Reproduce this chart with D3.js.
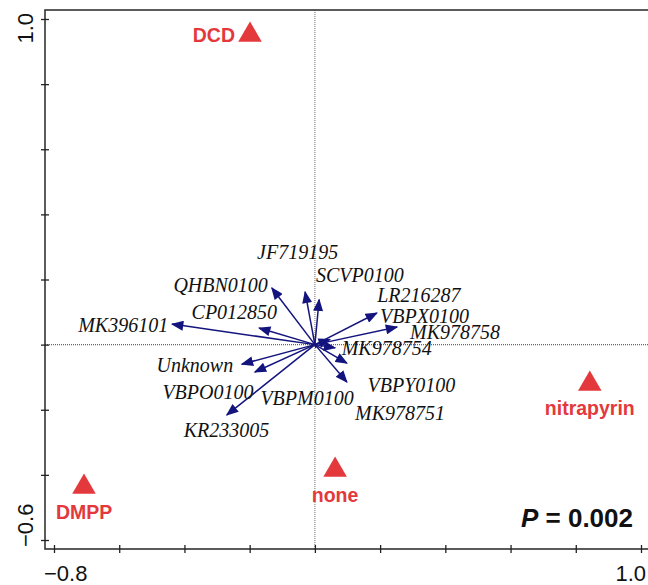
<!DOCTYPE html>
<html>
<head>
<meta charset="utf-8">
<script src="https://cdn.jsdelivr.net/npm/d3@7"></script>
<style>
  body { margin: 0; background: #fff; }
  svg { display: block; }
</style>
</head>
<body>
<div id="chart"></div>
<script>
// species vectors (axis 1, axis 2)
const species = ['JF719195', 'QHBN0100', 'SCVP0100', 'CP012850', 'MK396101', 'LR216287', 'VBPX0100',
  'MK978758', 'MK978754', 'Unknown', 'VBPO0100', 'VBPM0100', 'VBPY0100', 'MK978751', 'KR233005'];
const specX = [-0.030, -0.132, 0.013, -0.171, -0.438, 0.046, 0.190, 0.252, 0.062, -0.224, -0.184, 0.003, 0.098, 0.098, -0.270];
const specY = [0.162, 0.174, 0.138, 0.051, 0.063, 0.016, 0.097, 0.054, -0.010, -0.060, -0.084, -0.010, -0.057, -0.115, -0.216];
// where each label sits (data units)
const labX = [-0.053, -0.289, 0.138, -0.247, -0.588, 0.319, 0.336, 0.430, 0.220, -0.368, -0.328, -0.024, 0.296, 0.261, -0.271];
const labY = [0.284, 0.183, 0.214, 0.100, 0.061, 0.152, 0.088, 0.039, -0.010, -0.063, -0.146, -0.164, -0.124, -0.210, -0.262];

// treatments (centroids)
const treatments = ['DCD', 'DMPP', 'none', 'nitrapyrin'];
const treatX = [-0.199, -0.708, 0.062, 0.843];
const treatY = [0.957, -0.431, -0.379, -0.115];

const xTicks = [-0.8, -0.6, -0.4, -0.2, 0, 0.2, 0.4, 0.6, 0.8, 1.0];
const yTicks = [-0.6, -0.4, -0.2, 0, 0.2, 0.4, 0.6, 0.8, 1.0];
const pLabel = '0.002';

const W = 648, H = 585;
const frame = {left: 45, top: 10, right: 652, bottom: 549};
const red = '#e4393c', navy = '#14147e';

const svg = d3.select('#chart').append('svg')
  .attr('width', W).attr('height', H);

const x = d3.scaleLinear().domain([-0.8, 1.0]).range([54, 641]);
const y = d3.scaleLinear().domain([-0.6, 1.0]).range([540, 19]);

// dotted zero lines
svg.append('line')
  .attr('x1', x(0)).attr('x2', x(0))
  .attr('y1', frame.top).attr('y2', frame.bottom)
  .attr('stroke', '#888').attr('stroke-width', 1.2).attr('stroke-dasharray', '1,1');
svg.append('line')
  .attr('x1', frame.left).attr('x2', frame.right)
  .attr('y1', y(0)).attr('y2', y(0))
  .attr('stroke', '#666').attr('stroke-width', 1.2).attr('stroke-dasharray', '1,1');

// frame
svg.append('rect')
  .attr('x', frame.left).attr('y', frame.top)
  .attr('width', frame.right - frame.left).attr('height', frame.bottom - frame.top)
  .attr('fill', 'none').attr('stroke', '#333').attr('stroke-width', 1.6);

// ticks (crossing the frame)
const xAxis = svg.append('g')
  .attr('transform', `translate(0,${frame.bottom - 4})`)
  .call(d3.axisBottom(x).tickValues(xTicks).tickSize(8).tickFormat(''));
xAxis.select('.domain').remove();
xAxis.selectAll('line').attr('stroke', '#222').attr('stroke-width', 1.3);

const yAxis = svg.append('g')
  .attr('transform', `translate(${frame.left + 4},0)`)
  .call(d3.axisLeft(y).tickValues(yTicks).tickSize(8).tickFormat(''));
yAxis.select('.domain').remove();
yAxis.selectAll('line').attr('stroke', '#222').attr('stroke-width', 1.3);

// end labels only
const tickFont = '"Liberation Sans", Arial, sans-serif';
const fmt = d3.format('.1f');
svg.append('text').attr('x', frame.left - 1).attr('y', 581)
  .attr('font-family', tickFont).attr('font-size', 22).attr('fill', '#111')
  .text(fmt(xTicks[0]));
svg.append('text').attr('x', 646).attr('y', 581).attr('text-anchor', 'end')
  .attr('font-family', tickFont).attr('font-size', 22).attr('fill', '#111')
  .text(fmt(xTicks[xTicks.length - 1]));
svg.append('text').attr('transform', `translate(33,13) rotate(-90)`).attr('text-anchor', 'end')
  .attr('font-family', tickFont).attr('font-size', 22).attr('fill', '#111')
  .text(fmt(yTicks[yTicks.length - 1]));
svg.append('text').attr('transform', `translate(33,547) rotate(-90)`)
  .attr('font-family', tickFont).attr('font-size', 22).attr('fill', '#111')
  .text(fmt(yTicks[0]));

// arrows
svg.append('defs').append('marker')
  .attr('id', 'head')
  .attr('viewBox', '0 0 10 8')
  .attr('refX', 9).attr('refY', 4)
  .attr('markerWidth', 13).attr('markerHeight', 10)
  .attr('markerUnits', 'userSpaceOnUse')
  .attr('orient', 'auto')
  .append('path').attr('d', 'M0,0 L10,4 L0,8 Z').attr('fill', navy);

const vecs = species.map((s, i) => ({name: s, x: specX[i], y: specY[i], lx: labX[i], ly: labY[i]}));

svg.append('g').selectAll('line')
  .data(vecs)
  .join('line')
  .attr('x1', x(0)).attr('y1', y(0))
  .attr('x2', d => x(d.x)).attr('y2', d => y(d.y))
  .attr('stroke', navy).attr('stroke-width', 1.5)
  .attr('marker-end', d => Math.hypot(x(d.x) - x(0), y(d.y) - y(0)) > 6 ? 'url(#head)' : null);

svg.append('g').selectAll('text')
  .data(vecs)
  .join('text')
  .attr('x', d => x(d.lx)).attr('y', d => y(d.ly))
  .attr('dy', '0.34em')
  .attr('text-anchor', 'middle')
  .attr('font-family', '"Liberation Serif", "Times New Roman", serif')
  .attr('font-style', 'italic')
  .attr('font-size', 20)
  .attr('fill', '#111')
  .text(d => d.name);

// treatments
const treats = treatments.map((t, i) => ({name: t, x: treatX[i], y: treatY[i]}));
const tri = d3.symbol().type(d3.symbolTriangle).size(240);
svg.append('g').selectAll('path')
  .data(treats)
  .join('path')
  .attr('transform', d => `translate(${x(d.x)},${y(d.y) + 2})`)
  .attr('d', tri)
  .attr('fill', red);

const labPos = {
  DCD: {dx: -15, dy: 9, anchor: 'end'},
  DMPP: {dx: -28, dy: 34, anchor: 'start'},
  none: {dx: 0, dy: 34, anchor: 'middle'},
  nitrapyrin: {dx: 0, dy: 33, anchor: 'middle'}
};
svg.append('g').selectAll('text')
  .data(treats)
  .join('text')
  .attr('x', d => x(d.x) + labPos[d.name].dx)
  .attr('y', d => y(d.y) + labPos[d.name].dy)
  .attr('text-anchor', d => labPos[d.name].anchor)
  .attr('font-family', tickFont)
  .attr('font-weight', 'bold')
  .attr('font-size', 19.5)
  .attr('fill', red)
  .text(d => d.name);

// P value
const pt = svg.append('text')
  .attr('x', 633).attr('y', 527).attr('text-anchor', 'end')
  .attr('font-family', tickFont).attr('font-weight', 'bold')
  .attr('font-size', 26).attr('fill', '#111');
pt.append('tspan').attr('font-style', 'italic').text('P');
pt.append('tspan').text(' = ' + pLabel);
</script>
</body>
</html>
